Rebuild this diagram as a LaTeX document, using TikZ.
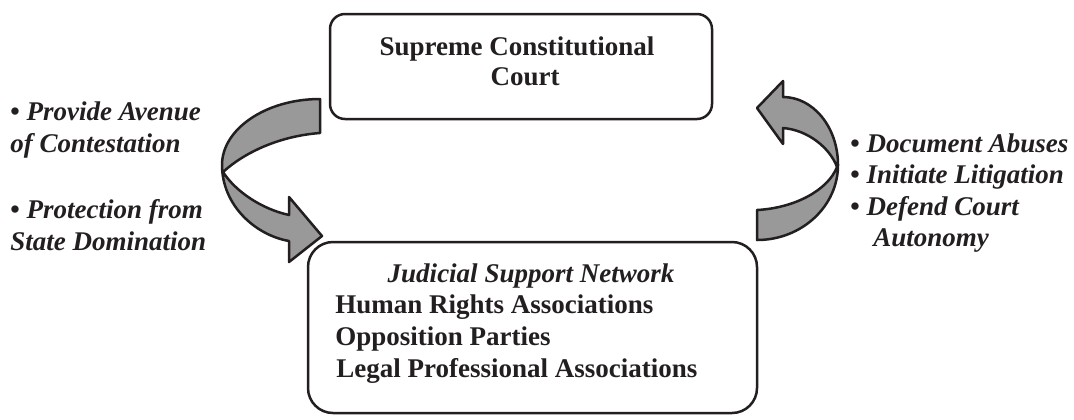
\documentclass[tikz,border=0pt]{standalone}
\usepackage{fontspec}
\setmainfont{Liberation Serif}
\definecolor{ink}{HTML}{231F20}
\begin{document}
\begin{tikzpicture}[x=0.5pt,y=-0.5pt,
  txt/.style={font=\fontsize{13.5}{16}\selectfont\bfseries, inner sep=0pt, text=ink},
  itx/.style={font=\fontsize{13.5}{16}\selectfont\bfseries\itshape, inner sep=0pt, text=ink},
  box/.style={draw=ink, line width=1.25pt, fill=white, inner sep=0pt},
  ribbon/.style={draw=ink, line width=1.25pt, fill=black!40, line join=round}]
\useasboundingbox (0,0) rectangle (1074,419);

% left curved arrow (court -> network)
\draw[ribbon] (320,99) .. controls (266,99) and (222,129) .. (222,165)
  .. controls (222,205) and (255,235) .. (289,241)
  -- (289,262) -- (322,236) -- (289,197) -- (289,215)
  .. controls (262,209) and (236,192) .. (223,172)
  .. controls (245,152) and (280,136) .. (320,133) -- cycle;

% right curved arrow (network -> court)
\draw[ribbon] (757,210) .. controls (795,208) and (828,190) .. (837,167)
  .. controls (830,148) and (808,130) .. (783,128)
  -- (783,144) -- (757,108) -- (783,81) -- (783,97)
  .. controls (813,97) and (838,127) .. (838,165)
  .. controls (838,206) and (802,240) .. (757,240) -- cycle;

% boxes
\node[box, rounded corners=7.5pt, minimum width=191pt, minimum height=52.5pt] (sc) at (521,66.5) {};
\node[box, rounded corners=12.5pt, minimum width=224.5pt, minimum height=85.5pt] (jsn) at (532.5,327.5) {};

% top box text
\node[txt, anchor=base] (sc1) at (517,55) {Supreme Constitutional};
\node[txt, anchor=base] (sc2) at (525,85) {Court};

% bottom box text
\node[itx, anchor=base] (j0) at (531,282) {Judicial Support Network};
\node[txt, anchor=base west] (j1) at (335,313) {Human Rights Associations};
\node[txt, anchor=base west] (j2) at (335,345) {Opposition Parties};
\node[txt, anchor=base west] (j3) at (336,377) {Legal Professional Associations};

% left labels
\node[itx, anchor=base west] (l1) at (10,120) {{\upshape\textbullet}\ Provide Avenue};
\node[itx, anchor=base west] (l2) at (10,152) {of Contestation};
\node[itx, anchor=base west] (l3) at (10,218) {{\upshape\textbullet}\ Protection from};
\node[itx, anchor=base west] (l4) at (10,250) {State Domination};

% right labels
\node[itx, anchor=base west] (r1) at (850,152) {{\upshape\textbullet}\ Document Abuses};
\node[itx, anchor=base west] (r2) at (850,183) {{\upshape\textbullet}\ Initiate Litigation};
\node[itx, anchor=base west] (r3) at (850,215) {{\upshape\textbullet}\ Defend Court};
\node[itx, anchor=base west] (r4) at (873,246) {Autonomy};
\end{tikzpicture}
\end{document}
